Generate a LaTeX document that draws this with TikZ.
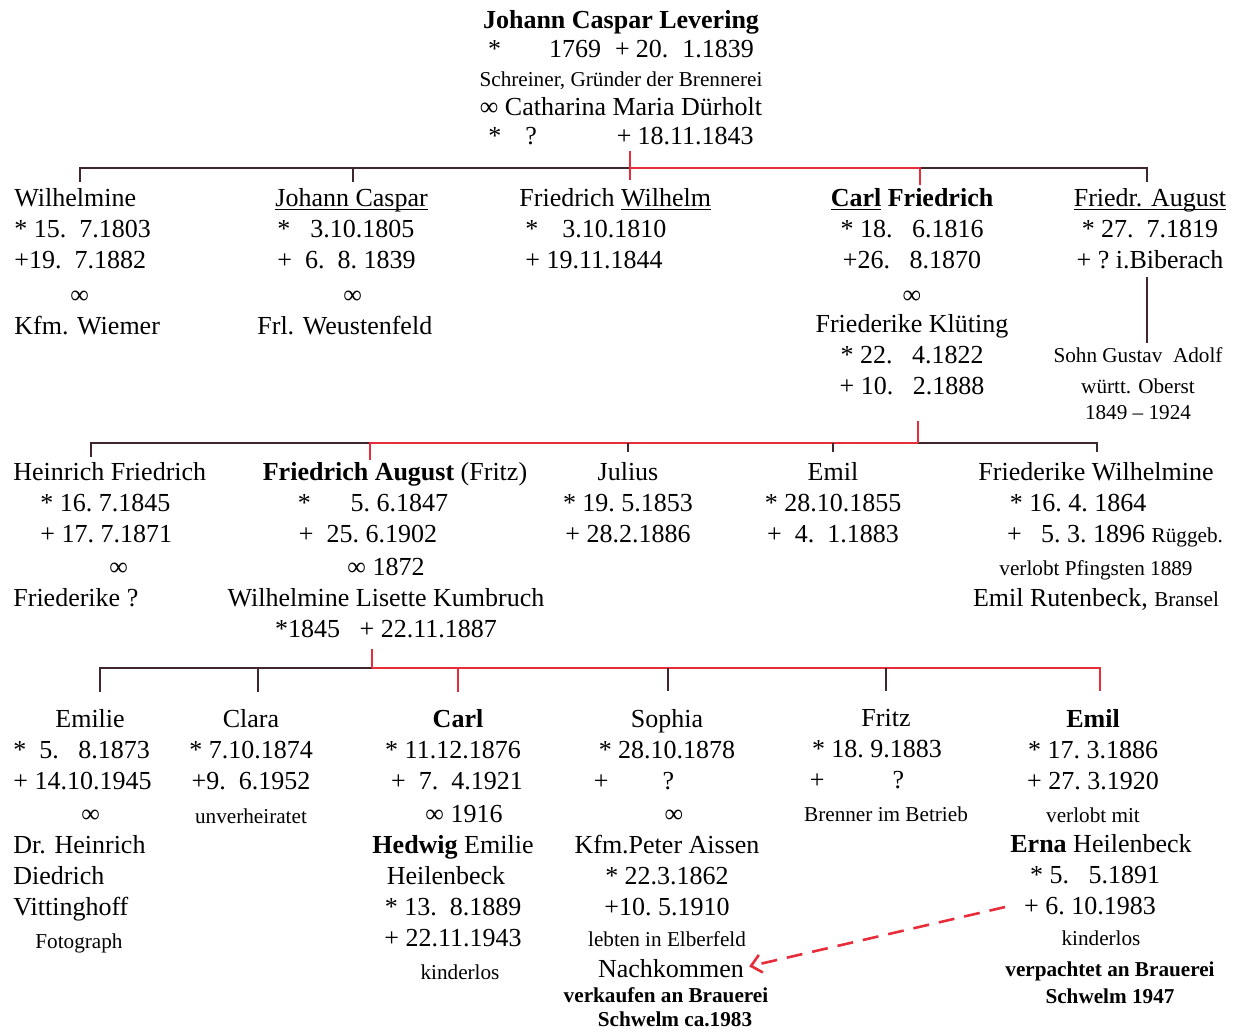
\documentclass[tikz,border=0pt]{standalone}
\usepackage{fontspec}
\setmainfont{Liberation Serif}
\usetikzlibrary{arrows.meta}

\definecolor{lineblack}{RGB}{62,38,44}
\definecolor{linered}{RGB}{232,45,58}

\newcommand{\famtxt}{\fontsize{13}{15.5}\selectfont}
\newcommand{\famsmall}{\fontsize{10.6}{13}\selectfont}
\newcommand{\fampad}[1]{\rule{#1}{0pt}}
\newcommand{\born}{*}
\newlength{\famullen}
\newcommand{\famul}[1]{\settowidth{\famullen}{#1}\rlap{\rule[-2pt]{\famullen}{0.6pt}}#1}

\tikzset{
  person/.style={anchor=north, inner sep=0pt, align=center, font=\famtxt,
    execute at begin node={\rule{0pt}{10pt}}},
  personl/.style={person, anchor=north west, align=left},
  remark/.style={person, font=\famsmall},
  darkline/.style={draw=lineblack, line width=1.2pt},
  redline/.style={draw=linered, line width=1.2pt},
  hintarrow/.style={draw=linered, line width=1.3pt, dash pattern=on 8pt off 5pt,
    -{Straight Barb[length=5pt,width=9pt]}},
}

\begin{document}
\begin{tikzpicture}[x=0.5pt, y=-0.5pt]
  \useasboundingbox (0,0) rectangle (1240,1029);

  % founder and his wife
  \node[person] (founder) at (621,10) {\textbf{Johann Caspar Levering}\\[-1pt]
    \born\hspace{24pt}1769\hspace{7pt}+\hspace{3pt}20.\hspace{7pt}1.1839\\[-1pt]
    {\famsmall Schreiner, Gründer der Brennerei}\\[-1pt]
    ∞ Catharina Maria Dürholt\\[-1pt]
    \born\hspace{12pt}?\hspace{40pt}+\hspace{3pt}18.11.1843};

  % first generation
  \node[personl] (wilhelmine) at (14,188) {Wilhelmine\\
    \born~15.~~7.1803\\
    +19.~~7.1882\\[2pt]
    \fampad{28pt}∞\\
    Kfm. Wiemer};
  \node[personl] (johann) at (257,188) {\fampad{9pt}\famul{Johann Caspar}\\
    \fampad{10pt}\born\hspace{10pt}3.10.1805\\
    \fampad{10pt}+~~6.~~8.~1839\\[2pt]
    \fampad{43pt}∞\\
    Frl. Weustenfeld};
  \node[personl] (friedrichw) at (519,188) {Friedrich \famul{Wilhelm}\\
    \fampad{3pt}\born\hspace{12pt}3.10.1810\\
    \fampad{3pt}+~19.11.1844};
  \node[person] (carlf) at (912,188) {\textbf{\famul{Carl} Friedrich}\\
    \born~18.~~~6.1816\\
    +26.~~~8.1870\\[2pt]
    ∞\\[-1pt]
    Friederike Klüting\\
    \born~22.~~~4.1822\\
    +~10.~~~2.1888};
  \node[person] (friedra) at (1150,188) {\famul{Friedr. August}\\
    \born~27.~~7.1819\\
    +~?~i.Biberach};
  \node[remark] (gustav) at (1138,347) {Sohn Gustav~~Adolf\\[2.5pt]
    württ. Oberst\\
    1849 – 1924};

  % second generation
  \node[personl] (heinrich) at (13,462) {Heinrich Friedrich\\
    \fampad{13.5pt}\born~16.~7.1845\\
    \fampad{13.5pt}+~17.~7.1871\\[1pt]
    \fampad{48pt}∞\\
    Friederike ?};
  \node[person] (fritz) at (386,462) {\fampad{9pt}\textbf{Friedrich August} (Fritz)\\
    \born\hspace{20pt}5.~6.1847\fampad{13pt}\\
    +~~25.~6.1902\fampad{18pt}\\[1pt]
    ∞~1872\\
    Wilhelmine Lisette Kumbruch\\
    \born1845~~~+~22.11.1887};
  \node[person] (julius) at (628,462) {Julius\\
    \born~19.~5.1853\\
    +~28.2.1886};
  \node[person] (emil) at (833,462) {Emil\\
    \born~28.10.1855\\
    +~~4.~~1.1883};
  \node[person] (friederikew) at (1096,462) {Friederike Wilhelmine\\
    \born~16.~4.~1864\fampad{18pt}\\
    \fampad{19pt}+~~~5.~3.~1896 {\famsmall Rüggeb.}\\[1pt]
    {\famsmall verlobt Pfingsten 1889}\\
    Emil Rutenbeck, {\famsmall Bransel}};

  % third generation
  \node[personl] (emilie) at (13,709) {\fampad{21pt}Emilie\\
    \born~~5.~~~8.1873\\
    +~14.10.1945\\[1pt]
    \fampad{34pt}∞\\
    Dr. Heinrich\\
    Diedrich\\
    Vittinghoff\\[1pt]
    \fampad{11pt}{\famsmall Fotograph}};
  \node[person] (clara) at (251,709) {Clara\\
    \born~7.10.1874\\
    +9.~~6.1952\\[1.5pt]
    {\famsmall unverheiratet}};
  \node[person] (carl) at (453,709) {\fampad{5pt}\textbf{Carl}\\
    \born~11.12.1876\\
    \fampad{4pt}+~~7.~~4.1921\\[1pt]
    \fampad{11pt}∞~1916\\
    \textbf{Hedwig} Emilie\\
    Heilenbeck\fampad{7pt}\\
    \born~13.~~8.1889\\
    +~22.11.1943\\[1pt]
    \fampad{7pt}{\famsmall kinderlos}};
  \node[person] (sophia) at (667,709) {Sophia\\
    \born~28.10.1878\\
    +\hspace{27pt}?\fampad{33pt}\\[1pt]
    \fampad{7pt}∞\\
    Kfm.Peter Aissen\\
    \born~22.3.1862\\
    +10.~5.1910\\
    {\famsmall lebten in Elberfeld}};
  \node[person] (nachkommen) at (671,957) {Nachkommen};
  \node[remark] (verkauf) at (666,987) {\textbf{verkaufen an Brauerei}\\[-1pt]
    \fampad{9pt}\textbf{Schwelm ca.1983}};
  \node[person] (fritzjr) at (886,709) {Fritz\\
    \born~18.~9.1883\fampad{9pt}\\
    +\hspace{34pt}?\fampad{29pt}\\[1pt]
    {\famsmall Brenner im Betrieb}};
  \node[person] (emiljr) at (1093,709) {\textbf{Emil}\\
    \born~17.~3.1886\\
    +~27.~3.1920\\[1pt]
    {\famsmall verlobt mit}};
  \node[person] (erna) at (1110,834) {\textbf{Erna} Heilenbeck\fampad{9pt}\\
    \born~5.~~~5.1891\fampad{15pt}\\
    +~6.~10.1983\fampad{20pt}\\
    {\famsmall kinderlos}\fampad{9pt}\\
    {\famsmall\bfseries verpachtet an Brauerei}\\[-2pt]
    {\famsmall\bfseries Schwelm 1947}};

  % bar of the first generation
  \coordinate (g1a) at (80,168);
  \coordinate (g1b) at (353,168);
  \coordinate (g1p) at (630,168);
  \coordinate (g1c) at (920,168);
  \coordinate (g1d) at (1147,168);
  \draw[darkline, shorten <=3pt] (wilhelmine.north -| g1a) -- (g1a) -- (g1p);
  \draw[darkline, shorten >=3pt] (g1b) -- (g1b |- johann.north);
  \draw[darkline, shorten >=3pt] (g1c) -- (g1d) -- (g1d |- friedra.north);
  \draw[redline, shorten >=1.5pt] (g1p) -- (g1c) -- (g1c |- carlf.north);
  \draw[redline, shorten <=3pt, shorten >=4pt] (founder.south -| g1p) -- (g1p |- friedrichw.north);
  \draw[darkline, shorten <=4pt, shorten >=2pt] (friedra.south -| g1d) -- (gustav.north -| g1d);

  % bar of the second generation
  \coordinate (g2a) at (91,443);
  \coordinate (g2b) at (370,443);
  \coordinate (g2c) at (628,443);
  \coordinate (g2d) at (833,443);
  \coordinate (g2p) at (918,443);
  \coordinate (g2e) at (1097,443);
  \draw[darkline, shorten <=2.5pt] (heinrich.north -| g2a) -- (g2a) -- (g2b);
  \draw[darkline, shorten >=5pt] (g2p) -- (g2e) -- (g2e |- friederikew.north);
  \draw[redline, shorten <=1pt] (g2b |- fritz.north) -- (g2b) -- (g2p);
  \draw[darkline, shorten >=5pt] (g2c) -- (g2c |- julius.north);
  \draw[darkline, shorten >=5pt] (g2d) -- (g2d |- emil.north);
  \draw[redline, shorten <=13pt] (carlf.south -| g2p) -- (g2p);

  % bar of the third generation
  \coordinate (g3a) at (100,668);
  \coordinate (g3b) at (258,668);
  \coordinate (g3p) at (372,668);
  \coordinate (g3c) at (458,668);
  \coordinate (g3d) at (668,668);
  \coordinate (g3e) at (886,668);
  \coordinate (g3f) at (1100,668);
  \draw[darkline, shorten <=8.5pt] (emilie.north -| g3a) -- (g3a) -- (g3p);
  \draw[darkline, shorten >=8.5pt] (g3b) -- (g3b |- clara.north);
  \draw[redline, shorten >=9pt] (g3p) -- (g3f) -- (g3f |- emiljr.north);
  \draw[redline, shorten >=8.5pt] (g3c) -- (g3c |- carl.north);
  \draw[darkline, shorten >=9pt] (g3d) -- (g3d |- sophia.north);
  \draw[darkline, shorten >=9pt] (g3e) -- (g3e |- fritzjr.north);
  \draw[redline, shorten <=5.5pt] (fritz.south -| g3p) -- (g3p);

  % hint to the heirs
  \draw[hintarrow, shorten >=2.5pt] ([yshift=6pt]erna.west) -- (nachkommen.east);
\end{tikzpicture}
\end{document}
